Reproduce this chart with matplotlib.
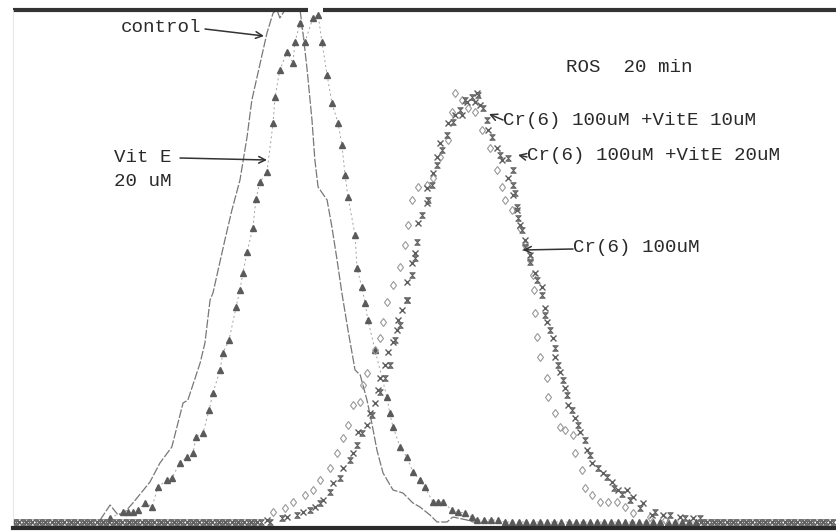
import matplotlib
matplotlib.use('Agg')
import matplotlib.pyplot as plt
from matplotlib.path import Path

# ROS 20 min histogram, channel (0-256) vs cell count

control_ch = [27.1, 30.2, 32.7, 34.8, 37.3, 42.6, 45.7, 49.4, 52.9, 54.4, 58.2, 59.7, 61.3, 62.2,
              65.9, 68.1, 70.6, 72.8, 74.3, 79.0, 80.9, 82.1, 83.0, 84.6, 89.3, 90.2, 91.4, 92.4,
              93.0, 93.9, 94.9, 97.7, 99.2, 100.8, 102.3, 104.2, 106.4, 108.0, 110.1, 111.6, 113.2,
              115.1, 118.2, 121.3, 124.4, 126.6, 129.7, 131.9, 135.0, 136.8, 141.2, 143.1, 148.3]
control_cnt = [1, 8.5, 3.5, 5, 9.5, 20, 29.5, 37.5, 59.5, 61, 79.5, 89.5, 111, 114.5,
               141, 156, 171, 192.5, 211, 244.5, 254.5, 256, 252, 256, 256, 244.5, 227.5, 211,
               201, 181, 167.5, 161, 147.5, 131, 114.5, 96, 76, 73.5, 61, 49.5, 36,
               24.5, 16, 14.5, 9.5, 7.5, 3.5, 0, 0, 2.5, 1, 0, 0]

vite_ch = [30.2, 34.2, 35.8, 37.3, 38.9, 41.1, 43.2, 45.1, 47.9, 49.4, 51.9, 54.1, 56.0, 56.9,
           59.1, 61.0, 62.2, 64.4, 65.3, 67.2, 69.4, 70.6, 71.5, 72.8, 74.6, 75.6, 76.8, 79.0,
           80.9, 81.5, 83.0, 85.2, 87.1, 87.7, 89.3, 90.8, 93.3, 94.9, 96.1, 97.7, 99.2, 101.1,
           102.3, 103.3, 104.2, 106.4, 107.0, 108.5, 109.5, 110.4, 112.6, 116.3, 117.2, 118.2,
           120.4, 122.5, 124.4, 126.6, 128.1, 130.6, 132.2, 133.7, 136.5, 138.4, 140.6, 142.7,
           144.3, 146.5, 148.6, 150.8, 153.0, 155.2, 157.4, 159.6, 161.8, 164.0, 166.2, 168.4,
           170.6, 172.8, 175.0, 177.2, 179.4, 181.6, 183.8, 186.0, 188.2, 190.4, 192.6, 194.8,
           197.0, 199.2, 201.4, 203.6, 205.8, 208.0, 210.2, 212.4]
vite_cnt = [2, 5, 5, 5, 6, 9.5, 7.5, 17.5, 21, 22, 29.5, 32.5, 34.5, 42.5,
            44.5, 56, 64.5, 76, 84.5, 91, 107.5, 116, 124.5, 135, 147, 161.5, 170, 175,
            199.5, 212.5, 226, 235, 229.5, 240, 249.5, 240, 252, 253.5, 240, 223.5, 209.5, 199.5,
            188.5, 173.5, 162.5, 143.5, 127, 117.5, 109.5, 101, 86, 62.5, 54.5, 47.5,
            37.5, 32.5, 25, 21, 17.5, 10, 10, 10, 6, 5, 4.5, 2.5,
            1, 1, 1, 1, 0, 0, 0, 0, 0, 0, 0, 0,
            0, 0, 0, 0, 0, 0, 0, 0, 0, 0, 0, 0,
            0, 0, 0, 0, 0, 0, 0, 0]

cr_ch = [80.9, 84.6, 87.1, 90.8, 93.3, 95.5, 98.6, 100.8, 102.6, 104.2, 105.7, 108.0, 108.9,
         110.1, 112.6, 114.1, 115.1, 116.3, 118.2, 120.4, 121.9, 122.8, 124.1, 126.0, 128.8,
         130.6, 132.8, 135.3, 136.5, 137.5, 139.6, 141.5, 143.7, 145.9, 148.3, 150.5, 152.1,
         153.0, 155.2, 157.7, 159.2, 160.8, 161.7, 162.0, 162.3, 163.0, 163.9, 166.1, 166.4,
         168.6, 170.1, 171.7, 174.2, 174.8, 177.0, 177.9, 180.1, 182.6, 185.0, 187.8, 190.3,
         192.8, 198.1, 202.8]
cr_cnt = [5, 7, 10, 13.5, 16, 21, 27, 34.5, 42, 48.5, 58.5, 60, 68.5,
          74.5, 86, 92, 100, 110, 118.5, 127.5, 138.5, 148.5, 161, 167.5, 168.5,
          172, 182.5, 191, 205, 214.5, 211, 207, 205, 196, 187, 176, 167.5,
          161, 156, 147, 138.5, 131, 123.5, 116, 104.5, 92.5, 82.5, 72, 62.5,
          54.5, 47.5, 46, 43.5, 34.5, 26, 17, 13.5, 10, 10, 10, 7.5,
          4.5, 2.5, 1]

cr_e10_ch = [0, 2, 4, 6, 8, 10, 12, 14, 16, 18, 20, 22, 24, 26, 28, 30, 32, 34, 36, 38, 40,
             42, 44, 46, 48, 50, 52, 54, 56, 58, 60, 62, 64, 66, 68, 70, 72, 74, 76,
             79.0, 85.2, 90.2, 93.9, 96.4, 99.5, 102.6, 105.7, 107.3, 110.1, 111.0, 112.6, 113.5,
             114.1, 115.7, 116.6, 118.2, 119.4, 119.7, 121.0, 122.5, 122.5, 124.1, 125.0, 126.0,
             128.8, 128.8, 130.6, 131.9, 132.8, 135.3, 137.5, 139.6, 141.2, 143.7, 144.3, 145.2,
             147.7, 150.5, 152.1, 153.9, 155.5, 156.7, 157.7, 159.2, 160.8, 162.3, 164.5, 165.5,
             166.1, 167.9, 168.6, 170.1, 171.7, 172.6, 174.8, 176.3, 178.5, 180.1, 183.5, 186.3,
             188.2, 191.0, 192.8, 195.9, 198.7, 202.2, 207.4, 211.5,
             214, 216, 218, 220, 222, 224, 226, 228, 230, 232, 234, 236, 238, 240, 242, 244,
             246, 248, 250, 252, 254]
cr_e10_cnt = [0, 0, 0, 0, 0, 0, 0, 0, 0, 0, 0, 0, 0, 0, 0, 0, 0, 0, 0, 0, 0,
              0, 0, 0, 0, 0, 0, 0, 0, 0, 0, 0, 0, 0, 0, 0, 0, 0, 0,
              1, 2.5, 5, 7.5, 11, 19.5, 27, 34.5, 45, 48.5, 54.5, 59.5, 66,
              72, 78.5, 85, 90, 96, 101, 106, 111, 120, 129.5, 134.5, 149.5,
              159.5, 167, 174.5, 182.5, 189.5, 199.5, 203.5, 203.5, 210, 210, 214.5, 208.5,
              196, 187, 181, 172, 163.5, 156, 148.5, 141, 133.5, 124.5, 117.5, 107,
              100, 92, 82.5, 75, 67, 58.5, 52, 45, 36, 29.5, 24.5, 20,
              16, 16, 12.5, 9.5, 3.5, 3.5, 2.5, 2,
              0, 0, 0, 0, 0, 0, 0, 0, 0, 0, 0, 0, 0, 0, 0, 0,
              0, 0, 0, 0, 0]

cr_e20_ch = [1, 3, 5, 7, 9, 11, 13, 15, 17, 19, 21, 23, 25, 27, 29, 31, 33, 35, 37, 39, 41,
             43, 45, 47, 49, 51, 53, 55, 57, 59, 61, 63, 65, 67, 69, 71, 73, 75, 77, 80,
             83.7, 88.3, 92.4, 95.5, 98.6, 101.7, 104.8, 107.0, 108.5, 111.6, 114.1, 115.7,
             117.2, 118.8, 120.4, 122.5, 124.1, 125.0, 125.6, 127.2, 129.1, 130.3, 131.9, 133.4,
             135.0, 136.8, 139.0, 140.6, 142.7, 144.6, 146.2, 147.4, 149.0, 151.5, 153.9, 155.5,
             155.5, 156.1, 156.7, 157.1, 158.3, 159.2, 160.8, 163.0, 164.5, 165.5, 167.0, 168.6,
             169.6, 171.1, 172.3, 173.8, 175.7, 177.9, 179.4, 181.9, 184.7, 186.9, 189.4, 191.9,
             195.0, 199.7, 204.3, 209.0, 213.7,
             215, 217, 219, 221, 223, 225, 227, 229, 231, 233, 235, 237, 239, 241, 243, 245,
             247, 249, 251, 253, 255]
cr_e20_cnt = [0, 0, 0, 0, 0, 0, 0, 0, 0, 0, 0, 0, 0, 0, 0, 0, 0, 0, 0, 0, 0,
              0, 0, 0, 0, 0, 0, 0, 0, 0, 0, 0, 0, 0, 0, 0, 0, 0, 0, 0,
              2, 3.5, 6, 9.5, 15, 22, 31, 38.5, 44.5, 53.5, 65, 72,
              78.5, 91, 98.5, 111, 123.5, 132, 140, 153.5, 161, 168.5, 178.5, 186,
              193.5, 200, 206, 211, 212.5, 213.5, 207, 201, 192.5, 183.5, 182, 176,
              168.5, 164.5, 157.5, 152, 146, 137.5, 130, 121, 113.5, 103.5, 96, 87,
              78.5, 71, 63.5, 56, 48.5, 41, 33.5, 27, 22.5, 17, 14, 11,
              7, 5, 3.5, 2, 2,
              0, 0, 0, 0, 0, 0, 0, 0, 0, 0, 0, 0, 0, 0, 0, 0,
              0, 0, 0, 0, 0]

W, H = 836, 531
fig = plt.figure(figsize=(W / 100, H / 100), dpi=100)
fig.patch.set_facecolor('white')
ax = fig.add_axes([13 / W, 3 / H, 823 / W, 518 / H])
ax.set_xlim(0, 256)
ax.set_ylim(-3, 256)

hourglass = Path([(-1, 1), (1, 1), (-1, -1), (1, -1), (-1, 1)],
                 [Path.MOVETO, Path.LINETO, Path.LINETO, Path.LINETO, Path.CLOSEPOLY])

ax.plot(control_ch, control_cnt, color='#777777', lw=0.9, ls=(0, (7, 1.5)))
ax.plot(vite_ch, vite_cnt, ls=(0, (2, 3)), color='#a0a0a0', lw=0.7,
        marker='^', ms=5, mfc='#5a5a5a', mec='#5a5a5a')
ax.plot(cr_ch, cr_cnt, ls='none', marker='d', ms=4.5, mfc='none', mec='#999999', mew=0.8)
ax.plot(cr_e10_ch, cr_e10_cnt, ls='none', marker='x', ms=4.5, mec='#5e5e5e', mew=1.0)
ax.plot(cr_e20_ch, cr_e20_cnt, ls='none', marker=hourglass, ms=4, mfc='#777777',
        mec='#5e5e5e', mew=0.6)

for side in ['top', 'right']:
    ax.spines[side].set_visible(False)
ax.spines['left'].set_color('#e2e2e2')
ax.spines['left'].set_linewidth(0.6)
ax.spines['bottom'].set_color('#2a2a2a')
ax.spines['bottom'].set_linewidth(3)
ax.set_xticks([])
ax.set_yticks([])
ax.patch.set_alpha(0)

# thick top border, broken where the peaks go off scale
ax.plot([0, 0.358], [1.0, 1.0], transform=ax.transAxes, color='#333333', lw=3,
        clip_on=False, solid_capstyle='butt')
ax.plot([0.377, 1.0], [1.0, 1.0], transform=ax.transAxes, color='#333333', lw=3,
        clip_on=False, solid_capstyle='butt')

font = dict(family=['Liberation Mono', 'DejaVu Sans Mono'], size=13.8, color='#2a2a2a')


def px(x, y):
    return (x / W, 1 - y / H)


def label(text, x, y, **kw):
    fig.text(*px(x, y), text, ha='left', va='center', **font, **kw)


def arrow(x0, y0, x1, y1, head=True):
    ax.annotate('', xy=px(x1, y1), xytext=px(x0, y0), xycoords='figure fraction',
                textcoords='figure fraction',
                arrowprops=dict(arrowstyle='->' if head else '-', color='#333333', lw=1.1,
                                shrinkA=0, shrinkB=0, mutation_scale=12))


label('control', 121, 27)
arrow(205, 29, 264, 36)
label('Vit E', 114, 158)
label('20 uM', 114, 181)
arrow(180, 158, 267, 160)
label('ROS  20 min', 566, 67)
label('Cr(6) 100uM +VitE 10uM', 503, 121)
arrow(503, 120, 489, 114)
label('Cr(6) 100uM +VitE 20uM', 527, 156)
arrow(527, 157, 518, 155)
label('Cr(6) 100uM', 573, 247)
arrow(573, 249, 523, 250)

fig.savefig('out.png', dpi=100)
